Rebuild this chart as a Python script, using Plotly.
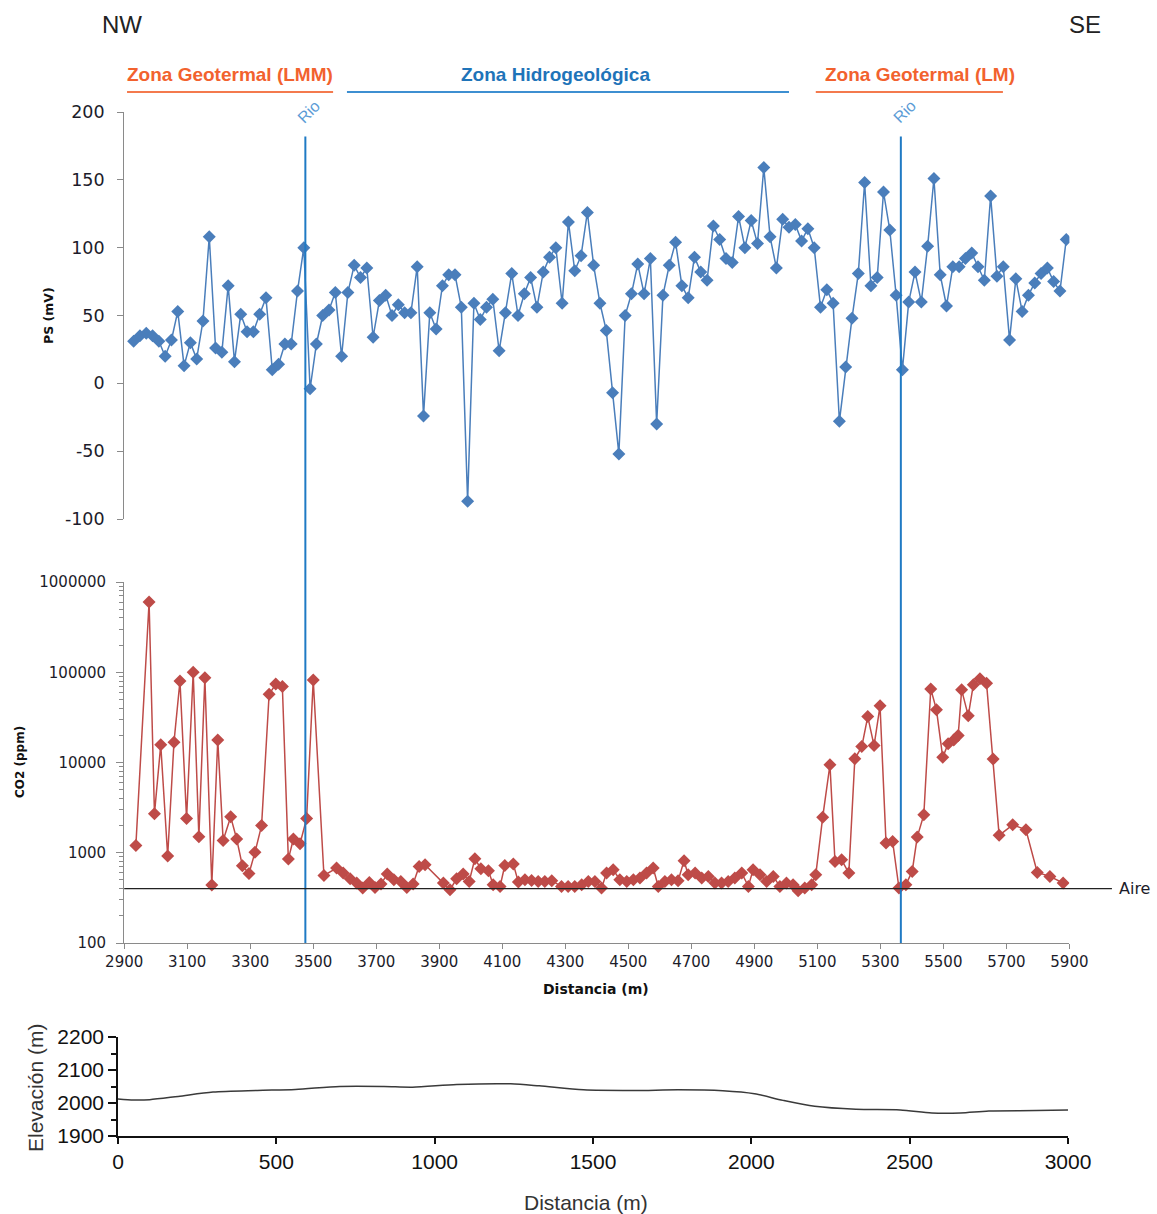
import math
import plotly.graph_objects as go

# ---------------- data ----------------
# Self-potential profile (mV), stations every 20 m
ps_dist = list(range(2930, 5891, 20))
ps_mv = [31, 35, 37, 35, 31, 20, 32, 53, 13, 30, 18, 46, 108, 26, 23, 72, 16, 51, 38, 38,
         51, 63, 10, 14, 29, 29, 68, 100, -4, 29, 50, 54, 67, 20, 67, 87, 78, 85, 34, 61,
         65, 50, 58, 52, 52, 86, -24, 52, 40, 72, 80, 80, 56, -87, 59, 47, 56, 62, 24,
         52, 81, 50, 66, 78, 56, 82, 93, 100, 59, 119, 83, 94, 126, 87, 59, 39, -7, -52, 50,
         66, 88, 66, 92, -30, 65, 87, 104, 72, 63, 93, 82, 76, 116, 106, 92, 89, 123, 100, 120,
         103, 159, 108, 85, 121, 115, 117, 105, 114, 100,
         56, 69, 59, -28, 12, 48, 81, 148, 72, 78, 141, 113, 65, 10, 60, 82, 60, 101, 151, 80,
         57, 86, 86, 92, 96, 86, 76, 138, 79, 86, 32, 77, 53, 65, 74, 81, 85, 75, 68, 106]

# Soil CO2 concentration (ppm)
co2_dist = [2937, 2979, 2996, 3016, 3038, 3058, 3077, 3098, 3119, 3137, 3156, 3178, 3197, 3214,
            3238, 3257, 3275, 3296, 3315, 3336, 3360, 3381, 3402, 3421, 3437, 3458, 3479, 3500,
            3534, 3574, 3595, 3617, 3638, 3657, 3678, 3696, 3715, 3735, 3756, 3778, 3797, 3817,
            3836, 3855, 3913, 3934, 3955, 3976, 3995, 4013, 4032, 4056, 4071, 4093, 4108, 4135,
            4151, 4172, 4193, 4214, 4235, 4257,
            4288, 4309, 4330, 4352, 4373, 4394, 4415, 4431, 4452, 4473, 4495, 4516, 4537, 4558,
            4579, 4595, 4616, 4637, 4658, 4677, 4690, 4712, 4733, 4754, 4775, 4796, 4817, 4838,
            4860, 4881, 4896, 4918, 4939, 4960, 4981, 5002, 5023, 5039, 5060, 5082, 5095,
            5117, 5140, 5156, 5177, 5200, 5219, 5241, 5260, 5280, 5299, 5318, 5339, 5359, 5381,
            5401, 5417, 5438, 5460, 5478, 5498, 5515, 5533, 5547, 5558, 5579, 5595, 5616, 5637,
            5658, 5677, 5720, 5762, 5798, 5838, 5880]
co2_ppm = [1200, 600000, 2700, 15700, 920, 16800, 80000, 2400, 100000, 1500, 87000, 440, 17800, 1370,
           2500, 1420, 720, 590, 1010, 2000, 57000, 74000, 69500, 850, 1420, 1260, 2400, 82000,
           560, 676, 596, 515, 461, 406, 469, 413, 450, 580, 502, 481, 413, 450,
           705, 736, 461, 389, 515, 580, 481, 859, 665, 632, 443, 424, 723, 750,
           473, 502, 494, 481, 481, 490,
           424, 424, 424, 443, 481, 481, 406, 596, 650, 502, 481, 502, 525, 596,
           676, 424, 481, 502, 490, 815, 570, 596, 525, 547, 461, 461, 481, 525,
           596, 424, 650, 570, 481, 547, 424, 461, 443, 380, 406, 443, 570,
           2480, 9440, 802, 836, 596, 11000, 15000, 32300, 15400, 42500, 1280, 1330, 407, 443,
           621, 1490, 2640, 65400, 38400, 11400, 16100, 17800, 19900, 63800, 32900, 72600, 84600, 75700,
           10900, 1560, 2040, 1800, 605, 547, 462]
co2_air = 400

# Topographic profile
elev_dist = [0, 50, 100, 190, 300, 440, 560, 700, 840, 930, 1070, 1240, 1330, 1470,
             1630, 1770, 1910, 2010, 2100, 2200, 2330, 2470, 2570, 2660, 2750, 2900, 3000]
elev_m = [2012, 2009, 2010, 2020, 2033, 2038, 2041, 2050, 2050, 2048, 2056, 2058, 2052, 2040,
          2038, 2040, 2037, 2028, 2008, 1990, 1981, 1979, 1970, 1970, 1976, 1977, 1979]

# River crossings and zone extents along the profile (m)
rio_dist = [3475, 5365]
rio_top_mv = 182
zone_names = ["Zona Geotermal (LMM)", "Zona Hidrogeológica", "Zona Geotermal (LM)"]
zone_start = [2909, 3607, 5095]
zone_end = [3563, 5010, 5689]
zone_label_x = [3237, 4270, 5426]
zone_text_color = ["#f2622e", "#1f74b9", "#f2622e"]
zone_line_color = ["#f47a4e", "#3d8fd1", "#f47a4e"]

ps_ticks = [-100, -50, 0, 50, 100, 150, 200]
co2_ticks = [100, 1000, 10000, 100000, 1000000]
dist_ticks = list(range(2900, 5901, 200))
elev_ticks = [1900, 2000, 2100, 2200]
elev_dist_ticks = [0, 500, 1000, 1500, 2000, 2500, 3000]

# ---------------- layout geometry ----------------
W, H = 1157, 1214
x_dom = [124.2 / W, 1069.4 / W]
ps_dom = [1 - 519 / H, 1 - 112 / H]
co2_dom = [1 - 943 / H, 1 - 582 / H]
el_xdom = [118 / W, 1068 / W]
el_ydom = [1 - 1136 / H, 1 - 1037 / H]

PS_COLOR = "#4a7ebb"
CO2_COLOR = "#be4b48"
AX_GREY = "#8a8a8a"
TICK_FONT = dict(family="DejaVu Sans", size=15, color="#1c1c2a")
HEAD_FONT = "Liberation Sans, Arial"

fig = go.Figure()

fig.add_trace(go.Scatter(
    x=ps_dist, y=ps_mv, mode="lines+markers", xaxis="x", yaxis="y",
    line=dict(color=PS_COLOR, width=1.5),
    marker=dict(symbol="diamond", size=10, color=PS_COLOR),
    showlegend=False))

fig.add_trace(go.Scatter(
    x=co2_dist, y=co2_ppm, mode="lines+markers", xaxis="x2", yaxis="y2",
    line=dict(color=CO2_COLOR, width=1.5),
    marker=dict(symbol="diamond", size=10, color=CO2_COLOR),
    showlegend=False))

fig.add_trace(go.Scatter(
    x=elev_dist, y=elev_m, mode="lines", xaxis="x3", yaxis="y3",
    line=dict(color="#3a3a3a", width=1.5, shape="spline", smoothing=0.8),
    showlegend=False))

minor_log = [k * 10 ** e for e in range(2, 6) for k in range(2, 10)]

fig.update_layout(
    width=W, height=H, autosize=False,
    margin=dict(l=0, r=0, t=0, b=0, pad=0, autoexpand=False),
    paper_bgcolor="white", plot_bgcolor="white",
    xaxis=dict(domain=x_dom, anchor="y", range=[2900, 5900], matches="x2", automargin=False,
               showline=False, showticklabels=False, ticks="", showgrid=False, zeroline=False),
    yaxis=dict(domain=ps_dom, anchor="x", range=[-100, 200], automargin=False,
               tickvals=ps_ticks, ticktext=[str(v) for v in ps_ticks],
               showline=True, linecolor=AX_GREY, linewidth=1.2,
               ticks="outside", ticklen=6, tickcolor=AX_GREY, ticklabelstandoff=9,
               tickfont=dict(family="DejaVu Sans", size=17.5, color="#1c1c2a"),
               showgrid=False, zeroline=False),
    xaxis2=dict(domain=x_dom, anchor="y2", range=[2900, 5900], automargin=False,
                tickvals=dist_ticks, ticktext=[str(v) for v in dist_ticks],
                showline=True, linecolor=AX_GREY, linewidth=1.2,
                ticks="outside", ticklen=5, tickcolor=AX_GREY,
                tickfont=TICK_FONT, showgrid=False, zeroline=False),
    yaxis2=dict(domain=co2_dom, anchor="x2", type="log", range=[2, 6], automargin=False,
                tickvals=co2_ticks, ticktext=[str(v) for v in co2_ticks],
                showline=True, linecolor=AX_GREY, linewidth=1.2,
                ticks="outside", ticklen=7, tickcolor=AX_GREY, ticklabelstandoff=7,
                minor=dict(tickvals=minor_log, ticks="outside", ticklen=4, tickcolor=AX_GREY),
                tickfont=TICK_FONT, showgrid=False, zeroline=False),
    xaxis3=dict(domain=el_xdom, anchor="y3", range=[0, 3000], automargin=False,
                tickvals=elev_dist_ticks, ticktext=[str(v) for v in elev_dist_ticks],
                showline=True, linecolor="#111", linewidth=2,
                ticks="outside", ticklen=6, tickcolor="#111", tickwidth=1.5,
                tickfont=dict(family="Liberation Sans, Arial", size=21, color="#111"),
                showgrid=False, zeroline=False),
    yaxis3=dict(domain=el_ydom, anchor="x3", range=[1900, 2200], automargin=False,
                tickvals=elev_ticks, ticktext=[str(v) for v in elev_ticks],
                showline=True, linecolor="#111", linewidth=1.5,
                ticks="outside", ticklen=8, tickcolor="#111", tickwidth=1.5,
                minor=dict(tickvals=[1950, 2050, 2150], ticks="outside", ticklen=5, tickcolor="#111"),
                tickfont=dict(family="Liberation Sans, Arial", size=21, color="#111"),
                showgrid=False, zeroline=False),
)

# vertical river lines spanning both panels
rio_top_paper = ps_dom[0] + (rio_top_mv - (-100)) / 300 * (ps_dom[1] - ps_dom[0])
for d in rio_dist:
    fig.add_shape(type="line", xref="x2", yref="paper", x0=d, x1=d,
                  y0=co2_dom[0], y1=rio_top_paper, line=dict(color="#1f7ac4", width=2))
    fig.add_annotation(x=d, y=200, xref="x", yref="y", text="Rio", showarrow=False,
                       textangle=-45, xshift=4, xanchor="center", yanchor="middle",
                       font=dict(family=HEAD_FONT, size=16, color="#5a9bd6"))

# atmospheric CO2 reference
fig.add_shape(type="line", xref="x2 domain", yref="y2", x0=0, x1=1.045,
              y0=co2_air, y1=co2_air, line=dict(color="#222", width=1.3))
fig.add_annotation(x=1.05, y=math.log10(co2_air), xref="x2 domain", yref="y2", text="Aire",
                   showarrow=False, xanchor="left", yanchor="middle",
                   font=dict(family="DejaVu Sans", size=16, color="#1c1c2a"))

# zone headers
for name, x0, x1, xc, tcol, lcol in zip(zone_names, zone_start, zone_end, zone_label_x,
                                         zone_text_color, zone_line_color):
    fig.add_shape(type="line", xref="x2", yref="paper", x0=x0, x1=x1,
                  y0=1 - 92 / H, y1=1 - 92 / H, line=dict(color=lcol, width=2))
    fig.add_annotation(x=xc, y=1 - 75 / H, xref="x2", yref="paper", text=f"<b>{name}</b>",
                       showarrow=False, xanchor="center", yanchor="middle",
                       font=dict(family=HEAD_FONT, size=19, color=tcol))

# direction labels
for txt, xp in (("NW", 122), ("SE", 1085)):
    fig.add_annotation(x=xp / W, y=1 - 25 / H, xref="paper", yref="paper", text=txt,
                       showarrow=False, xanchor="center", yanchor="middle",
                       font=dict(family=HEAD_FONT, size=24, color="#222"))

# axis titles
def side_title(text, xp, yp, size, family, color, angle=0):
    fig.add_annotation(x=xp / W, y=1 - yp / H, xref="paper", yref="paper", text=text,
                       textangle=angle, showarrow=False, xanchor="center", yanchor="middle",
                       font=dict(family=family, size=size, color=color))

side_title("<b>PS (mV)</b>", 48, 316, 12.5, "DejaVu Sans", "#111", -90)
side_title("<b>CO2 (ppm)</b>", 20, 762, 12, "DejaVu Sans", "#111", -90)
side_title("<b>Distancia (m)</b>", 596, 989, 14, "DejaVu Sans", "#111")
side_title("Elevación (m)", 35, 1088, 21, "Liberation Sans, Arial", "#333", -90)
side_title("Distancia (m)", 586, 1202, 21, "Liberation Sans, Arial", "#333")

fig.write_html("out.html")
